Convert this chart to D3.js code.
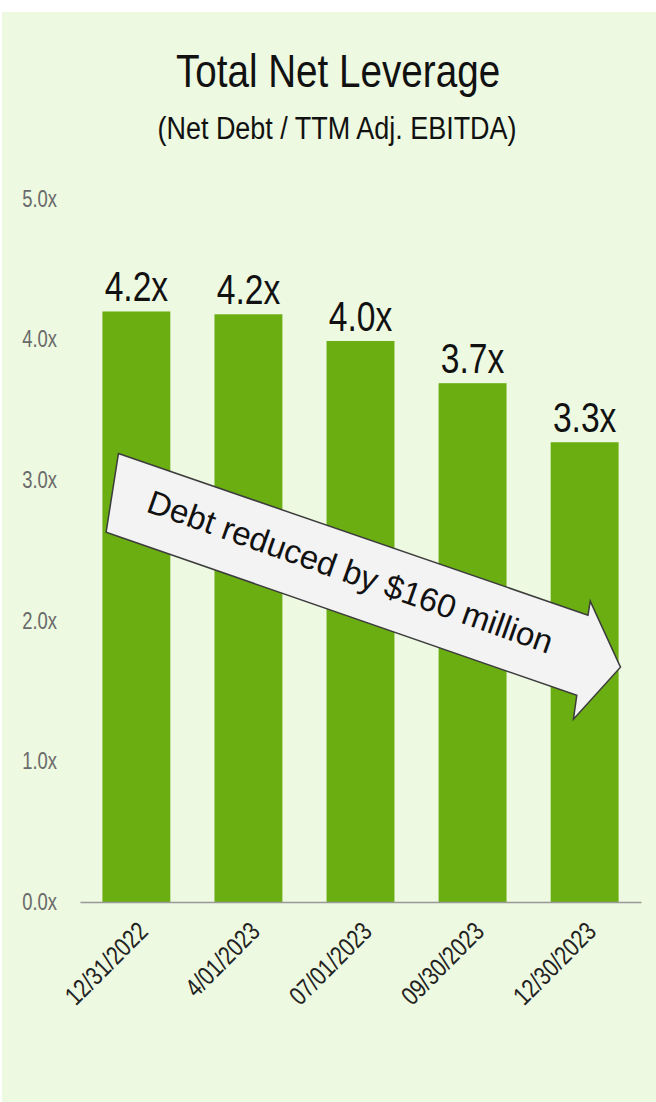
<!DOCTYPE html>
<html>
<head>
<meta charset="utf-8">
<script src="https://cdn.jsdelivr.net/npm/d3@7"></script>
<style>
  body { margin: 0; background: #fff; }
  .y-axis text { fill: #6a6a6a; font-family: "Liberation Sans", Arial, sans-serif; font-size: 23px; }
  .x-axis text { fill: #222; font-family: "Liberation Sans", Arial, sans-serif; font-size: 26px; }
  .x-axis path.domain { stroke: #999; stroke-width: 1.5; }
  .bar-label { fill: #111; font-family: "Liberation Sans", Arial, sans-serif; font-size: 42px; }
  .title { fill: #111; font-family: "Liberation Sans", Arial, sans-serif; }
</style>
</head>
<body>
<svg id="chart"></svg>
<script>
// data
const categories = ['12/31/2022', '4/01/2023', '07/01/2023', '09/30/2023', '12/30/2023'];
const leverage = [4.20, 4.18, 3.99, 3.69, 3.27];
const valueLabels = ['4.2x', '4.2x', '4.0x', '3.7x', '3.3x'];
const yTicks = [0, 1, 2, 3, 4, 5];

// annotation arrow, in [category index, leverage] units
const arrowShape = [[-0.16, 3.19], [4.03, 2.04], [4.05, 2.14], [4.32, 1.67],
                    [3.90, 1.30], [3.93, 1.47], [-0.27, 2.63]];
const arrowText = 'Debt reduced by $160 million';
const arrowTextAt = [1.91, 2.35];

const W = 656, H = 1102;
// no condensed face installed, so squeeze glyphs horizontally
const narrow = 'scale(0.8,1)';

const svg = d3.select('#chart')
    .attr('width', W)
    .attr('height', H);

// light green panel
svg.append('rect')
    .attr('x', 2).attr('y', 12)
    .attr('width', W - 2).attr('height', H - 12)
    .attr('fill', '#edf9e0');

svg.append('text')
    .attr('class', 'title')
    .attr('transform', 'translate(338,87) scale(0.84,1)')
    .attr('text-anchor', 'middle')
    .style('font-size', '46px')
    .text('Total Net Leverage');

svg.append('text')
    .attr('class', 'title')
    .attr('transform', 'translate(337,139) scale(0.87,1)')
    .attr('text-anchor', 'middle')
    .style('font-size', '31px')
    .text('(Net Debt / TTM Adj. EBITDA)');

// scales
const xScale = d3.scaleBand()
    .domain(categories)
    .range([80, 641])
    .paddingInner(0.394)
    .paddingOuter(0.2);

const yScale = d3.scaleLinear()
    .domain([0, 5])
    .range([902, 199]);

const xIdx = d3.scaleLinear()
    .domain([0, categories.length - 1])
    .range([xScale(categories[0]) + xScale.bandwidth() / 2,
            xScale(categories[categories.length - 1]) + xScale.bandwidth() / 2]);

// y axis (labels only)
const yAxisG = svg.append('g')
    .attr('class', 'y-axis')
    .attr('transform', 'translate(57,0)')
    .call(d3.axisLeft(yScale)
        .tickValues(yTicks)
        .tickFormat(d => d.toFixed(1) + 'x')
        .tickSize(0)
        .tickPadding(0));
yAxisG.select('.domain').remove();
yAxisG.selectAll('text')
    .attr('font-family', null)
    .attr('font-size', null)
    .attr('transform', narrow);

// bars
svg.selectAll('.bar')
    .data(leverage)
    .join('rect')
    .attr('class', 'bar')
    .attr('x', (d, i) => xScale(categories[i]))
    .attr('y', d => yScale(d))
    .attr('width', xScale.bandwidth())
    .attr('height', d => yScale(0) - yScale(d))
    .attr('fill', '#6aae12');

svg.selectAll('.bar-label')
    .data(leverage)
    .join('text')
    .attr('class', 'bar-label')
    .attr('transform', (d, i) =>
        `translate(${xScale(categories[i]) + xScale.bandwidth() / 2},${yScale(d) - 10}) ${narrow}`)
    .attr('text-anchor', 'middle')
    .text((d, i) => valueLabels[i]);

// x axis
const xAxisG = svg.append('g')
    .attr('class', 'x-axis')
    .attr('transform', `translate(0,${yScale(0)})`)
    .call(d3.axisBottom(xScale).tickSize(0).tickSizeOuter(0));
xAxisG.selectAll('text')
    .attr('font-family', null)
    .attr('font-size', null)
    .attr('y', 0)
    .attr('dy', 0)
    .attr('text-anchor', 'end')
    .attr('transform', `translate(13,31) rotate(-45) ${narrow}`);

// arrow annotation
const arrow = svg.append('g');
arrow.append('path')
    .attr('d', d3.line().x(d => xIdx(d[0])).y(d => yScale(d[1])).curve(d3.curveLinearClosed)(arrowShape))
    .attr('fill', '#f3f3f3')
    .attr('stroke', '#3c3c3c')
    .attr('stroke-width', 1.5)
    .attr('stroke-linejoin', 'miter');

arrow.append('text')
    .attr('transform', `translate(${xIdx(arrowTextAt[0])},${yScale(arrowTextAt[1])}) rotate(19.5)`)
    .attr('text-anchor', 'middle')
    .attr('dy', '0.35em')
    .style('font-family', '"Liberation Sans", Arial, sans-serif')
    .style('font-size', '33px')
    .attr('fill', '#111')
    .text(arrowText);
</script>
</body>
</html>
